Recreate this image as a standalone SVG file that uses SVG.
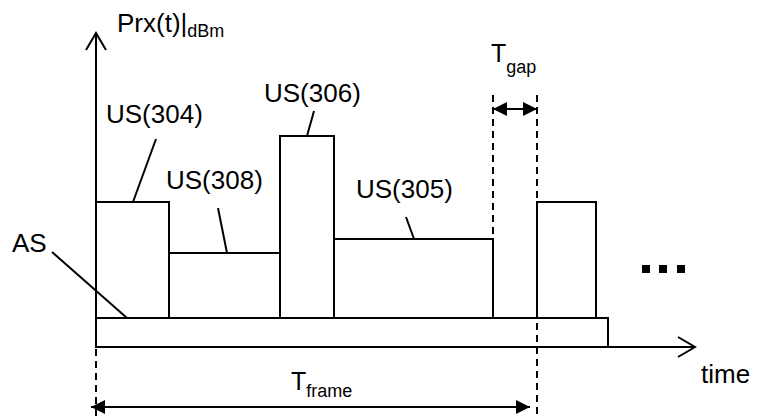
<svg xmlns="http://www.w3.org/2000/svg" width="759" height="416" viewBox="0 0 759 416">
<style>
.ln{stroke:#000;stroke-width:2;fill:none}
.box{stroke:#000;stroke-width:2;fill:#fff}
.dash{stroke:#000;stroke-width:2;fill:none;stroke-dasharray:7 5}
text{font-family:"Liberation Sans",Arial,sans-serif;fill:#000}
.lbl{font-size:26px}
.sub{font-size:18px}
.tt{font-size:25px}
</style>
<defs>
<marker id="fa" viewBox="0 0 14 14" refX="14" refY="7" markerWidth="14" markerHeight="14" markerUnits="userSpaceOnUse" orient="auto-start-reverse">
<path d="M0,0 L14,7 L0,14 Z" fill="#000"/>
</marker>
</defs>
<rect width="759" height="416" fill="#fff"/>
<g id="axes">
<line class="ln" x1="96" y1="347" x2="96" y2="34"/>
<polyline class="ln" points="86,50 96,33 106,50"/>
<line class="ln" x1="96" y1="347" x2="694" y2="347"/>
<polyline class="ln" points="678,337 695,347 678,357"/>
<text class="lbl" x="117" y="32">Prx(t)|<tspan class="sub" dy="5">dBm</tspan></text>
<text class="lbl" x="701" y="383">time</text>
</g>
<g id="US304"><rect class="box" x="96" y="202" width="73" height="116"/><text class="lbl" x="106" y="123">US(304)</text></g>
<g id="US308"><rect class="box" x="169" y="253" width="111" height="65"/><text class="lbl" x="166" y="189">US(308)</text></g>
<g id="US306"><rect class="box" x="280" y="136" width="54" height="182"/><text class="lbl" x="264" y="102">US(306)</text></g>
<g id="US305"><rect class="box" x="334" y="239" width="159" height="79"/><text class="lbl" x="356" y="198">US(305)</text></g>
<g id="US-next"><rect class="box" x="537" y="202" width="59" height="116"/></g>
<g id="AS"><rect class="box" x="96" y="318" width="512" height="29"/><text class="lbl" x="12" y="252">AS</text></g>
<g id="dots">
<rect x="642" y="265" width="8" height="8" fill="#000"/>
<rect x="659" y="265" width="8" height="8" fill="#000"/>
<rect x="677" y="265" width="8" height="8" fill="#000"/>
</g>
<g id="connectors">
<line class="ln" x1="156" y1="139" x2="133" y2="202"/>
<line class="ln" x1="218" y1="208" x2="227" y2="253"/>
<line class="ln" x1="314" y1="111" x2="307" y2="136"/>
<line class="ln" x1="406" y1="217" x2="414" y2="239"/>
<line class="ln" x1="52" y1="252" x2="127" y2="318"/>
<line class="dash" x1="96" y1="349" x2="96" y2="416"/>
<line class="dash" x1="493" y1="95" x2="493" y2="239"/>
<line class="dash" x1="537" y1="95" x2="537" y2="416"/>
<line class="ln" x1="493" y1="109" x2="537" y2="109" marker-start="url(#fa)" marker-end="url(#fa)"/>
<line class="ln" x1="91" y1="407" x2="530" y2="407" marker-start="url(#fa)" marker-end="url(#fa)"/>
</g>
<g id="labels">
<text class="tt" x="491" y="62">T<tspan class="sub" dy="11">gap</tspan></text>
<text class="tt" x="291" y="390">T<tspan class="sub" dy="7">frame</tspan></text>
</g>
</svg>
